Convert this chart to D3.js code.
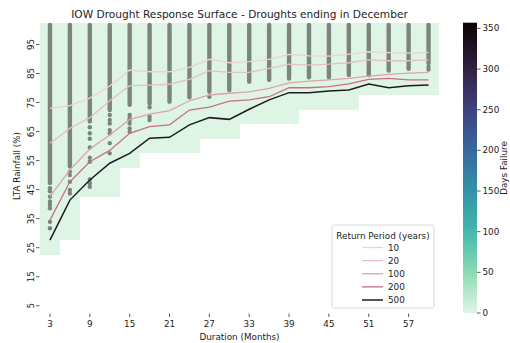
<!DOCTYPE html>
<html><head><meta charset="utf-8">
<script src="https://cdn.jsdelivr.net/npm/d3@7"></script>
<style>body{margin:0;background:#fff}svg{display:block;font-family:"DejaVu Sans",sans-serif}</style>
</head><body><svg id="c" width="510" height="343"></svg>
<script>
// ---- data ----
const durations = [3,6,9,12,15,18,21,24,27,30,33,36,39,42,45,48,51,54,57,60];
const returnPeriods = ["10","20","100","200","500"];
const rp10  = [73.0,73.9,76.5,80.7,86.2,85.6,85.6,87.1,89.9,88.7,89.1,89.9,91.6,91.1,91.0,91.7,92.5,92.2,92.0,92.3];
const rp20  = [61.0,66.1,69.8,75.6,80.8,81.0,81.3,83.0,86.0,85.4,85.4,86.8,88.2,87.9,88.2,88.7,89.7,89.4,89.4,89.7];
const rp100 = [42.6,51.8,59.0,63.8,69.2,71.0,72.2,75.6,77.6,78.2,78.7,79.9,81.8,82.4,82.8,83.3,84.1,84.7,85.1,85.4];
const rp200 = [34.5,47.7,54.6,58.5,64.4,66.7,67.3,72.4,73.4,75.5,75.9,77.0,80.1,80.1,80.5,81.4,83.0,83.3,82.8,82.8];
const rp500 = [27.6,41.4,48.3,54.1,57.5,62.7,63.0,67.3,69.8,69.2,72.7,75.9,78.4,78.4,79.0,79.3,81.4,80.1,80.8,81.0];
// lowest rainfall row of the heatmap (0 days failure) per duration
const cellFloor = [22.5,27.5,42.5,42.5,52.5,57.5,57.5,57.5,62.5,62.5,67.5,67.5,67.5,72.5,72.5,72.5,77.5,77.5,77.5,77.5];
const cellTop = 102.5;
const cellDays = 0;
// tested scenarios: continuous run from the top down to stripeBottom, plus isolated points
const stripeTop = 101.7;
const stripeBottom = [47.3,53.0,68.5,72.4,74.2,74.7,75.3,76.8,78.7,79.3,82.2,82.8,83.3,83.7,83.7,84.5,84.5,86.0,86.6,88.5];
const extraDur = [3,3,3,3,3,3,3,3, 6,6,6,6,6, 9,9,9,9,9,9,9,9,9, 12,12,12,12,12,12,12, 15,15,15,15,15,15, 18,18,18, 27, 60,60];
const extraVal = [45.5,44.4,42.6,40.9,39.8,38.6,33.9,31.7, 51.2,50.0,47.7,44.9,43.7, 66.5,64.4,62.5,59.5,56.0,54.6,48.5,47.2,46.0, 70.7,69.0,67.8,65.5,64.4,61.0,57.5, 70.7,69.6,69.0,67.8,66.1,64.9, 73.4,70.1,69.0, 77.0, 87.3,86.4];
const xTicks = [3,9,15,21,27,33,39,45,51,57];
const yTicks = [5,15,25,35,45,55,65,75,85,95];
const cbTicks = [0,50,100,150,200,250,300,350];
const cbMax = 357;
const makoStops = ["#0b0405","#2e1e3b","#413d7b","#37659e","#348fa7","#40b7ad","#8bdab2","#def5e5"];
const lineColors = ["#ebd3d3","#e5c0c2","#dba3ab","#c86f80","#1d1a26"];

// ---- scales ----
const svg = d3.select("#c");
const x = d3.scaleLinear().domain([1.5, 61.5]).range([40, 438.5]);
const y = d3.scaleLinear().domain([2.5, 102.5]).range([313, 22.7]);
const mako = d3.scaleLinear().domain(d3.range(makoStops.length).map(i => i/(makoStops.length-1))).range(makoStops).interpolate(d3.interpolateRgb);
const cmap = v => mako(1 - v / cbMax);
const yc = d3.scaleLinear().domain([0, cbMax]).range([313, 22.7]);

// title
svg.append("text").attr("x", 239.5).attr("y", 18).attr("text-anchor","middle")
  .attr("font-size", 10.6).attr("fill","#222")
  .text("IOW Drought Response Surface - Droughts ending in December");

// heatmap cells
svg.append("g").selectAll("rect").data(durations).join("rect")
  .attr("x", d => x(d - 1.5)).attr("width", d => x(d + 1.5) - x(d - 1.5) + 0.4)
  .attr("y", y(cellTop)).attr("height", (d,i) => y(cellFloor[i]) - y(cellTop))
  .attr("fill", cmap(cellDays)).attr("shape-rendering","crispEdges");

// scenario points
const dotCol = "#7b847d";
svg.append("g").selectAll("line").data(durations).join("line")
  .attr("x1", d => x(d)).attr("x2", d => x(d))
  .attr("y1", y(stripeTop)).attr("y2", (d,i) => y(stripeBottom[i]))
  .attr("stroke", dotCol).attr("stroke-width", 4.4).attr("stroke-linecap","round");
svg.append("g").selectAll("circle").data(extraDur).join("circle")
  .attr("cx", d => x(d)).attr("cy", (d,i) => y(extraVal[i])).attr("r", 2.2)
  .attr("fill", dotCol);

// return period lines
const series = [rp10, rp20, rp100, rp200, rp500];
const line = d3.line().x((v,i) => x(durations[i])).y(v => y(v));
svg.append("g").selectAll("path").data(series).join("path")
  .attr("d", line).attr("fill","none")
  .attr("stroke", (d,i) => lineColors[i]).attr("stroke-width", (d,i) => i === 4 ? 1.5 : 1.3);

// x axis
const gx = svg.append("g");
gx.selectAll("line").data(xTicks).join("line")
  .attr("x1", d => x(d)).attr("x2", d => x(d)).attr("y1", 313.5).attr("y2", 317)
  .attr("stroke","#333").attr("stroke-width",0.8);
gx.selectAll("text").data(xTicks).join("text")
  .attr("x", d => x(d)).attr("y", 327).attr("text-anchor","middle")
  .attr("font-size", 8.8).attr("fill","#222").text(d => d);
svg.append("text").attr("x", 239.5).attr("y", 339.5).attr("text-anchor","middle")
  .attr("font-size", 8.8).attr("fill","#222").text("Duration (Months)");

// y axis
const gy = svg.append("g");
gy.selectAll("line").data(yTicks).join("line")
  .attr("x1", 36).attr("x2", 39.5).attr("y1", d => y(d)).attr("y2", d => y(d))
  .attr("stroke","#333").attr("stroke-width",0.8);
gy.selectAll("text").data(yTicks).join("text")
  .attr("transform", d => `translate(30.5,${y(d)}) rotate(-90)`)
  .attr("dy","0.35em").attr("text-anchor","middle")
  .attr("font-size", 8.8).attr("fill","#222").text(d => d);
svg.append("text").attr("transform","translate(17,166) rotate(-90)")
  .attr("dy","0.35em").attr("text-anchor","middle")
  .attr("font-size", 8.8).attr("fill","#222").text("LTA Rainfall (%)");

// legend
const lg = svg.append("g");
lg.append("rect").attr("x", 332).attr("y", 225).attr("width", 102).attr("height", 83)
  .attr("rx", 2).attr("fill","#fff").attr("fill-opacity",0.85).attr("stroke","#d0d0d0").attr("stroke-width",0.8);
lg.append("text").attr("x", 383).attr("y", 238.5).attr("text-anchor","middle")
  .attr("font-size", 8.8).attr("fill","#222").text("Return Period (years)");
const entryY = d3.scaleLinear().domain([0, 4]).range([247.5, 300]);
returnPeriods.forEach((rp, i) => {
  lg.append("line").attr("x1", 362).attr("x2", 383).attr("y1", entryY(i)).attr("y2", entryY(i))
    .attr("stroke", lineColors[i]).attr("stroke-width", i === 4 ? 1.5 : 1.3);
  lg.append("text").attr("x", 388).attr("y", entryY(i)).attr("dy","0.35em")
    .attr("font-size", 8.8).attr("fill","#222").text(rp);
});

// colorbar
const defs = svg.append("defs");
const grad = defs.append("linearGradient").attr("id","cb").attr("x1",0).attr("y1",1).attr("x2",0).attr("y2",0);
d3.range(0, 1.0001, 0.05).forEach(t => {
  grad.append("stop").attr("offset", t).attr("stop-color", cmap(t * cbMax));
});
svg.append("rect").attr("x", 463).attr("y", yc(cbMax)).attr("width", 14)
  .attr("height", yc(0) - yc(cbMax)).attr("fill","url(#cb)");
const gc = svg.append("g");
gc.selectAll("line").data(cbTicks).join("line")
  .attr("x1", 477).attr("x2", 480.5).attr("y1", d => yc(d)).attr("y2", d => yc(d))
  .attr("stroke","#333").attr("stroke-width",0.8);
gc.selectAll("text").data(cbTicks).join("text")
  .attr("x", 482.5).attr("y", d => yc(d)).attr("dy","0.35em")
  .attr("font-size", 8.8).attr("fill","#222").text(d => d);
svg.append("text").attr("transform","translate(504,168) rotate(-90)")
  .attr("dy","0.35em").attr("text-anchor","middle")
  .attr("font-size", 8.8).attr("fill","#222").text("Days Failure");
</script></body></html>
